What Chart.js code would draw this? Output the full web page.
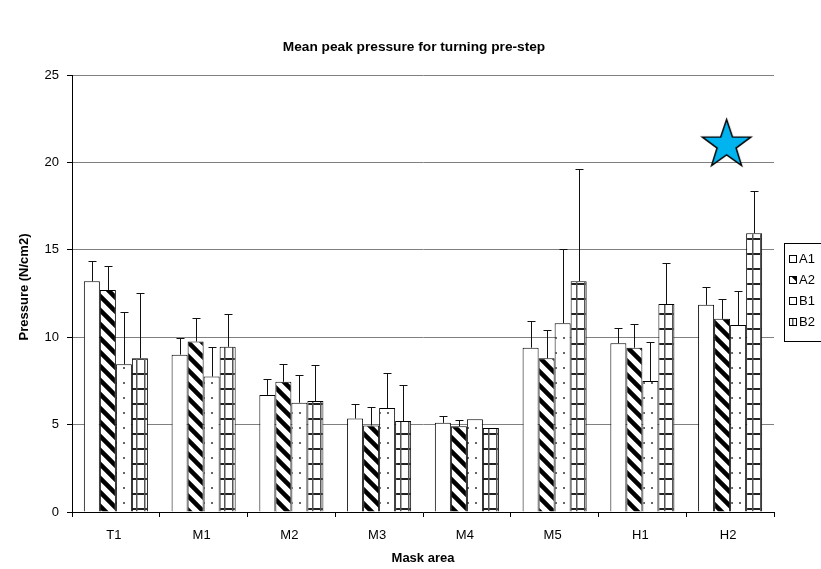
<!DOCTYPE html>
<html>
<head>
<meta charset="utf-8">
<script src="https://cdn.jsdelivr.net/npm/chart.js@4.4.1/dist/chart.umd.min.js"></script>
<style>
  html, body { margin: 0; padding: 0; background: #fff; }
</style>
</head>
<body>
<canvas id="chart" width="821" height="569"></canvas>
<script>
const areas = ['T1', 'M1', 'M2', 'M3', 'M4', 'M5', 'H1', 'H2'];
const seriesNames = ['A1', 'A2', 'B1', 'B2'];

const a1 = [13.2, 9.0, 6.7, 5.35, 5.1, 9.4, 9.65, 11.85];
const a2 = [12.7, 9.75, 7.45, 4.95, 4.9, 8.8, 9.4, 11.05];
const b1 = [8.45, 7.75, 6.25, 5.95, 5.3, 10.8, 7.5, 10.7];
const b2 = [8.8, 9.45, 6.35, 5.2, 4.8, 13.2, 11.9, 15.95];

// upper end of each error bar
const a1Top = [14.35, 9.95, 7.6, 6.15, 5.5, 10.95, 10.5, 12.9];
const a2Top = [14.1, 11.1, 8.45, 6.0, 5.25, 10.4, 10.75, 12.2];
const b1Top = [11.45, 9.45, 7.85, 7.95, 5.3, 15.05, 9.75, 12.65];
const b2Top = [12.55, 11.35, 8.4, 7.25, 4.8, 19.65, 14.25, 18.35];

// the blue star sits over H2
const starValues = [null, null, null, null, null, null, null, 21];

const chartTitle = 'Mean peak pressure for turning pre-step';
const yTitle = 'Pressure (N/cm2)';
const xTitle = 'Mask area';

const canvas = document.getElementById('chart');
const ctx = canvas.getContext('2d');

const FONT = '"Liberation Sans", Arial, sans-serif';
Chart.defaults.font.family = FONT;
Chart.defaults.color = '#000';

function makePattern(w, h, draw) {
  const c = document.createElement('canvas');
  c.width = w;
  c.height = h;
  const g = c.getContext('2d');
  g.fillStyle = '#fff';
  g.fillRect(0, 0, w, h);
  draw(g, w, h);
  return ctx.createPattern(c, 'repeat');
}

const diagFill = makePattern(14, 14, (g, w, h) => {
  g.strokeStyle = '#000';
  g.lineWidth = 4.5;
  g.beginPath();
  g.moveTo(-3, -3); g.lineTo(w + 3, h + 3);
  g.moveTo(-3, h - 3); g.lineTo(3, h + 3);
  g.moveTo(w - 3, -3); g.lineTo(w + 3, 3);
  g.stroke();
});

const dotFill = makePattern(8, 15, (g) => {
  g.fillStyle = '#666';
  g.fillRect(3, 7, 2, 2);
});

const gridFill = makePattern(8, 15, (g, w, h) => {
  g.fillStyle = '#222';
  g.fillRect(0, h - 2, w, 2);
  g.fillStyle = '#555';
  g.fillRect(0, 0, 1.5, h);
});

const fills = ['#fff', diagFill, dotFill, gridFill];

function makeStar() {
  const c = document.createElement('canvas');
  c.width = 60;
  c.height = 60;
  const g = c.getContext('2d');
  const cx = 26.5, cy = 30, ro = 25.5, ri = 10;
  g.beginPath();
  for (let i = 0; i < 10; i++) {
    const r = i % 2 ? ri : ro;
    const a = -Math.PI / 2 + i * Math.PI / 5;
    g.lineTo(cx + r * Math.cos(a), cy + r * Math.sin(a));
  }
  g.closePath();
  g.fillStyle = '#00B4F0';
  g.fill();
  g.strokeStyle = '#000';
  g.lineWidth = 1.5;
  g.stroke();
  return c;
}

const errorBars = {
  id: 'errorBars',
  afterDatasetsDraw(chart) {
    const y = chart.scales.y;
    const c = chart.ctx;
    c.save();
    c.strokeStyle = '#111';
    c.lineWidth = 1;
    chart.data.datasets.forEach((ds, i) => {
      if (!ds.errTop) return;
      chart.getDatasetMeta(i).data.forEach((bar, j) => {
        const top = ds.errTop[j];
        if (top == null || top <= ds.data[j]) return;
        const x = Math.round(bar.x) + 0.5;
        const yTop = Math.round(y.getPixelForValue(top)) + 0.5;
        c.beginPath();
        c.moveTo(x, bar.y);
        c.lineTo(x, yTop);
        c.moveTo(x - 4, yTop);
        c.lineTo(x + 4, yTop);
        c.stroke();
      });
    });
    c.restore();
  }
};

// titles and the boxed legend (cut off at the right edge like the original)
const decorations = {
  id: 'decorations',
  afterDraw(chart) {
    const c = chart.ctx;
    c.save();
    c.fillStyle = '#000';
    c.textAlign = 'center';
    c.textBaseline = 'middle';
    c.font = 'bold 13.7px ' + FONT;
    c.fillText(chartTitle, 414, 47.5);

    c.save();
    c.translate(24, 287);
    c.rotate(-Math.PI / 2);
    c.font = 'bold 13px ' + FONT;
    c.fillText(yTitle, 0, 0);
    c.restore();

    c.strokeStyle = '#000';
    c.lineWidth = 1;
    c.fillStyle = '#fff';
    c.fillRect(784.5, 243.5, 60, 98);
    c.strokeRect(784.5, 243.5, 60, 98);
    c.font = '13px ' + FONT;
    c.textAlign = 'left';
    seriesNames.forEach((name, i) => {
      const yy = 259 + i * 21;
      c.fillStyle = fills[i];
      c.fillRect(789, yy - 4, 8, 8);
      c.strokeRect(789.5, yy - 3.5, 7, 7);
      c.fillStyle = '#000';
      c.fillText(name, 799, yy + 0.5);
    });
    c.restore();
  }
};

const barSets = [a1, a2, b1, b2].map((vals, i) => ({
  label: seriesNames[i],
  data: vals,
  errTop: [a1Top, a2Top, b1Top, b2Top][i],
  backgroundColor: fills[i],
  borderColor: '#000',
  borderWidth: 1,
  borderSkipped: 'bottom',
  order: 2
}));

new Chart(ctx, {
  type: 'bar',
  data: {
    labels: areas,
    datasets: [
      {
        type: 'line',
        label: 'star',
        data: starValues,
        showLine: false,
        pointStyle: makeStar(),
        order: 0
      },
      ...barSets
    ]
  },
  options: {
    responsive: false,
    animation: false,
    layout: { padding: { top: 75, right: 47, left: 0, bottom: 0 } },
    datasets: { bar: { categoryPercentage: 0.73, barPercentage: 1 } },
    plugins: {
      legend: { display: false },
      tooltip: { enabled: false },
      title: { display: false }
    },
    scales: {
      x: {
        offset: true,
        grid: { offset: true, drawOnChartArea: false, tickLength: 5, tickColor: '#000' },
        border: { color: '#000' },
        ticks: { color: '#000', font: { size: 13 }, padding: 11, labelOffset: -2 },
        title: {
          display: true,
          text: xTitle,
          color: '#000',
          font: { size: 13, weight: 'bold' },
          padding: { top: 0, bottom: 3 }
        },
        afterFit: s => { s.height = 57; }
      },
      y: {
        min: 0,
        max: 25,
        ticks: { stepSize: 5, color: '#000', font: { size: 13 }, padding: 8 },
        grid: { color: '#808080', tickLength: 5, tickColor: '#000' },
        border: { color: '#000' },
        afterFit: s => { s.width = 72; }
      }
    }
  },
  plugins: [errorBars, decorations]
});
</script>
</body>
</html>
